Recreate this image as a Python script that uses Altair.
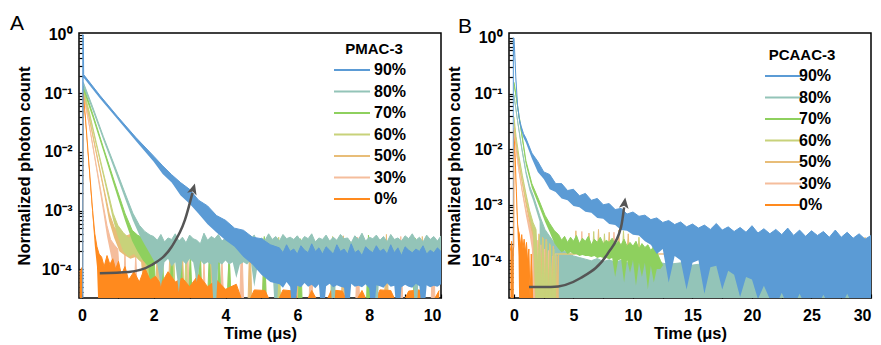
import altair as alt
import pandas as pd

OFF = 1e-5  # below the visible range (zero counts)

SERIES = ["90%", "80%", "70%", "60%", "50%", "30%", "0%"]
COLORS = ["#5b9bd5", "#93c4b8", "#8ed05e", "#c8d27a", "#e8bd78", "#f5bd9c", "#ff8a1e"]

# ---------------- Panel A (PMAC-3): (time, upper, lower) ----------------
A_0 = [(-0.06, 9e-5, OFF), (0.02, 1.1e-4, OFF), (0.04, 0.10, 0.085), (0.1, 0.038, 0.032),
       (0.2, 6.0e-3, 4.8e-3), (0.3, 1.0e-3, 7.5e-4), (0.36, 4.0e-4, 2.5e-4), (0.42, 2.4e-4, 1.1e-4),
       (0.48, 1.8e-4, OFF), (0.55, 1.6e-4, OFF), (0.62, 1.1e-4, OFF), (0.7, 1.7e-4, OFF),
       (0.78, 1.2e-4, OFF), (0.86, 1.5e-4, OFF), (0.94, 1.0e-4, OFF), (1.02, 1.35e-4, OFF),
       (1.1, 8e-5, OFF), (1.2, 1.1e-4, OFF), (1.3, 6.5e-5, OFF), (1.45, 9e-5, OFF), (1.6, 6e-5, OFF),
       (1.75, 1.05e-4, OFF), (1.9, 6.5e-5, OFF), (2.05, 7.5e-5, OFF), (2.2, 5.5e-5, OFF),
       (2.4, 9e-5, OFF), (2.6, 6e-5, OFF), (2.8, 7e-5, OFF), (3.0, 5e-5, OFF), (3.25, 8e-5, OFF),
       (3.5, 5e-5, OFF), (3.75, 6.5e-5, OFF), (4.0, 4.5e-5, OFF), (4.3, 5.5e-5, OFF),
       (4.55, 2e-5, OFF), (4.8, 4.4e-5, OFF), (5.1, 4.3e-5, OFF), (5.35, 2e-5, OFF),
       (5.6, 4.4e-5, OFF), (5.9, 4.2e-5, OFF), (6.15, 2e-5, OFF), (6.4, 4.3e-5, OFF),
       (6.7, 2e-5, OFF), (6.95, 4.4e-5, OFF), (7.25, 4.2e-5, OFF), (7.5, 2e-5, OFF),
       (7.8, 4.3e-5, OFF), (8.05, 2e-5, OFF), (8.3, 4.4e-5, OFF), (8.6, 4.3e-5, OFF),
       (8.85, 2e-5, OFF), (9.1, 4.2e-5, OFF), (9.4, 4.4e-5, OFF), (9.65, 2e-5, OFF), (9.95, 4.3e-5, OFF)]

A_30 = [(0.04, 0.105, 0.09), (0.2, 0.031, 0.027), (0.4, 6.0e-3, 5.0e-3), (0.6, 1.2e-3, 9.0e-4),
        (0.7, 5.5e-4, 3.6e-4), (0.8, 3.2e-4, 1.8e-4), (0.9, 2.6e-4, 9e-5), (1.0, 2.2e-4, OFF),
        (1.06, 5e-5, OFF), (1.14, 2e-5, OFF), (1.2, 2.0e-4, OFF), (1.26, 2e-5, OFF),
        (1.44, 2e-5, OFF), (1.5, 1.8e-4, OFF), (1.56, 2e-5, OFF), (1.74, 2e-5, OFF),
        (1.8, 1.6e-4, OFF), (1.86, 2e-5, OFF), (2.09, 2e-5, OFF), (2.15, 1.9e-4, OFF),
        (2.21, 2e-5, OFF), (2.49, 2e-5, OFF), (2.55, 1.4e-4, OFF), (2.61, 2e-5, OFF),
        (2.89, 2e-5, OFF), (2.95, 1.7e-4, OFF), (3.01, 2e-5, OFF), (3.34, 2e-5, OFF),
        (3.4, 1.3e-4, OFF), (3.46, 2e-5, OFF), (3.84, 2e-5, OFF), (3.9, 1.5e-4, OFF),
        (3.96, 2e-5, OFF), (4.39, 2e-5, OFF), (4.45, 3.6e-4, OFF), (4.51, 2e-5, OFF),
        (5.02, 2e-5, OFF), (5.08, 3.4e-4, OFF), (5.14, 2e-5, OFF), (6.32, 2e-5, OFF),
        (6.38, 3.7e-4, OFF), (6.44, 2e-5, OFF), (7.62, 2e-5, OFF), (7.68, 3.5e-4, OFF),
        (7.74, 2e-5, OFF), (8.82, 2e-5, OFF), (8.88, 3.6e-4, OFF), (8.94, 2e-5, OFF),
        (9.72, 2e-5, OFF), (9.78, 3.5e-4, OFF), (9.84, 2e-5, OFF)]

A_50 = [(0.04, 0.115, 0.1), (0.2, 0.041, 0.036), (0.4, 0.0102, 0.0088), (0.6, 2.6e-3, 2.2e-3),
        (0.76, 9e-4, 6.5e-4), (0.9, 5.2e-4, 3.4e-4), (1.05, 4.0e-4, 2.0e-4), (1.2, 3.6e-4, 1.7e-4),
        (1.35, 3.9e-4, 1.5e-4), (1.5, 3.0e-4, 1.6e-4), (1.65, 3.4e-4, 1.3e-4), (1.8, 2.6e-4, OFF),
        (1.88, 2e-5, OFF), (2.04, 2e-5, OFF), (2.1, 2.3e-4, OFF), (2.16, 2e-5, OFF),
        (2.39, 2e-5, OFF), (2.45, 1.9e-4, OFF), (2.51, 2e-5, OFF), (2.74, 2e-5, OFF),
        (2.8, 2.2e-4, OFF), (2.86, 2e-5, OFF), (3.14, 2e-5, OFF), (3.2, 1.7e-4, OFF),
        (3.26, 2e-5, OFF), (3.54, 2e-5, OFF), (3.6, 2.0e-4, OFF), (3.66, 2e-5, OFF),
        (4.62, 2e-5, OFF), (4.68, 3.8e-4, OFF), (4.74, 2e-5, OFF), (5.92, 2e-5, OFF),
        (5.98, 3.6e-4, OFF), (6.04, 2e-5, OFF), (7.22, 2e-5, OFF), (7.28, 3.7e-4, OFF),
        (7.34, 2e-5, OFF), (8.42, 2e-5, OFF), (8.48, 3.9e-4, OFF), (8.54, 2e-5, OFF),
        (9.42, 2e-5, OFF), (9.48, 3.6e-4, OFF), (9.54, 2e-5, OFF), (10.0, 2e-5, OFF)]

A_60 = [(0.04, 0.12, 0.1), (0.2, 0.05, 0.043), (0.4, 0.0145, 0.0125), (0.6, 4.4e-3, 3.7e-3),
        (0.87, 9e-4, 6.8e-4), (1.0, 5.6e-4, 3.6e-4), (1.15, 4.2e-4, 2.0e-4), (1.3, 3.4e-4, 1.6e-4),
        (1.45, 3.8e-4, 1.8e-4), (1.6, 3.1e-4, 1.4e-4), (1.75, 3.5e-4, 1.5e-4), (1.9, 2.8e-4, OFF),
        (1.98, 2e-5, OFF), (2.14, 2e-5, OFF), (2.2, 2.1e-4, OFF), (2.26, 2e-5, OFF),
        (2.49, 2e-5, OFF), (2.55, 2.4e-4, OFF), (2.61, 2e-5, OFF), (2.84, 2e-5, OFF),
        (2.9, 1.8e-4, OFF), (2.96, 2e-5, OFF), (3.24, 2e-5, OFF), (3.3, 2.2e-4, OFF),
        (3.36, 2e-5, OFF), (3.64, 2e-5, OFF), (3.7, 1.6e-4, OFF), (3.76, 2e-5, OFF),
        (4.04, 2e-5, OFF), (4.1, 2.0e-4, OFF), (4.16, 2e-5, OFF), (5.42, 2e-5, OFF),
        (5.48, 3.5e-4, OFF), (5.54, 2e-5, OFF), (6.92, 2e-5, OFF), (6.98, 3.6e-4, OFF),
        (7.04, 2e-5, OFF), (8.12, 2e-5, OFF), (8.18, 3.4e-4, OFF), (8.24, 2e-5, OFF),
        (10.0, 2e-5, OFF)]

A_70 = [(0.04, 0.135, 0.115), (0.3, 0.045, 0.039), (0.6, 0.0118, 0.0102), (0.9, 3.2e-3, 2.6e-3),
        (1.2, 9e-4, 6.8e-4), (1.4, 4.6e-4, 3.0e-4), (1.55, 3.8e-4, 2.0e-4), (1.7, 3.4e-4, 1.4e-4),
        (1.85, 3.0e-4, 1.1e-4), (2.0, 2.8e-4, OFF), (2.06, 3e-5, OFF), (2.18, 2e-5, OFF),
        (2.24, 2.5e-4, OFF), (2.3, 2e-5, OFF), (2.44, 2e-5, OFF), (2.5, 2.2e-4, OFF),
        (2.56, 2e-5, OFF), (2.7, 2e-5, OFF), (2.76, 2.6e-4, OFF), (2.82, 2e-5, OFF),
        (2.96, 2e-5, OFF), (3.02, 2.0e-4, OFF), (3.08, 2e-5, OFF), (3.22, 2e-5, OFF),
        (3.28, 2.3e-4, OFF), (3.34, 2e-5, OFF), (3.49, 2e-5, OFF), (3.55, 1.9e-4, OFF),
        (3.61, 2e-5, OFF), (3.76, 2e-5, OFF), (3.82, 2.4e-4, OFF), (3.88, 2e-5, OFF),
        (4.04, 2e-5, OFF), (4.1, 1.8e-4, OFF), (4.16, 2e-5, OFF), (5.02, 2e-5, OFF),
        (5.08, 3.6e-4, OFF), (5.14, 2e-5, OFF), (6.02, 2e-5, OFF), (6.08, 3.3e-4, OFF),
        (6.14, 2e-5, OFF), (7.92, 2e-5, OFF), (7.98, 3.8e-4, OFF), (8.04, 2e-5, OFF),
        (9.22, 2e-5, OFF), (9.28, 3.4e-4, OFF), (9.34, 2e-5, OFF), (10.0, 2e-5, OFF)]

A_80 = [(0.04, 0.155, 0.13), (0.3, 0.059, 0.051), (0.6, 0.0183, 0.0158), (0.9, 6.1e-3, 5.1e-3),
        (1.2, 2.0e-3, 1.6e-3), (1.42, 9e-4, 6.8e-4), (1.6, 5.6e-4, 3.8e-4), (1.75, 4.4e-4, 2.6e-4),
        (1.9, 3.8e-4, 1.8e-4)]
A80_FLOOR_T0, A80_FLOOR_DT = 2.0, 0.1
A80_FLOOR_HI = [3.6, 3.1, 3.9, 2.9, 3.4, 3.2, 4.0, 3.0, 3.5, 2.8, 3.8, 3.3, 3.1, 2.7, 4.1, 3.1, 3.6,
                3.3, 3.9, 3.0, 3.4, 2.9, 3.7, 3.2, 4.2, 2.9, 3.5, 3.3, 3.8, 2.8, 3.4, 3.1, 4.0, 3.2,
                3.6, 3.0, 3.9, 3.3, 3.5, 3.2, 3.7, 3.0, 3.6, 3.3, 4.0, 2.9, 3.4, 3.2, 3.8, 3.0,
                3.5, 3.1, 3.9, 3.3, 3.4, 2.8, 3.7, 3.2, 4.1, 3.0, 3.5, 3.3, 3.8, 3.1, 3.6, 2.9,
                3.9, 3.2, 3.4, 3.0, 3.7, 3.3, 4.0, 3.1, 3.5, 2.9, 3.8, 3.2, 3.6, 3.0, 3.7]  # x 1e-4
A80_FLOOR_LO = [1.4, 1.2, 0.5, 1.3, 1.5, 1.1, 1.3, 0.4, 1.4, 1.2, 1.5, 1.3, 0.6, 1.4, 1.2, 1.3, 1.2,
                0.1, 1.3, 1.2, 1.4, 1.2, 1.3, 0.7, 1.2, 1.3, 1.2, 1.4, 0.5, 1.2, 1.3, 1.2, 1.3, 1.2,
                0.1, 1.3, 1.2, 1.4, 1.2, 1.1, 1.3, 1.2, 1.3, 1.2, 1.3, 1.2, 1.3, 1.2, 1.3, 1.2,
                0.1, 1.3, 1.2, 1.3, 1.2, 1.3, 1.2, 1.3, 1.2, 1.3, 1.2, 1.3, 0.1, 1.3, 1.2, 1.3,
                1.2, 1.3, 1.2, 1.3, 1.2, 1.3, 1.2, 0.1, 1.3, 1.2, 1.3, 1.2, 1.3, 1.2, 1.3]  # x 1e-4

A_90 = [(0.01, 1.0, OFF), (0.04, 1.0, OFF), (0.05, 0.21, 0.185), (0.5, 0.093, 0.083),
        (1.0, 0.040, 0.036), (1.5, 0.0178, 0.0155), (2.0, 0.0085, 0.0068), (2.25, 0.0058, 0.0042),
        (2.5, 0.0041, 0.0030), (2.75, 0.0030, 0.0018), (3.0, 0.0023, 0.0013), (3.25, 0.0015, 0.00088),
        (3.5, 0.0012, 0.00058), (3.75, 0.00082, 0.00042), (4.0, 0.00068, 0.00031),
        (4.25, 0.00050, 0.00024), (4.5, 0.00046, 0.00016), (4.75, 0.00035, 0.00012),
        (5.0, 0.00033, 0.00008), (5.25, 0.00026, 0.00006)]
A90_FLOOR_T0, A90_FLOOR_DT = 5.5, 0.1
A90_FLOOR_HI = [2.3, 1.9, 2.6, 2.0, 2.2, 1.8, 2.5, 2.1, 1.9, 2.7, 2.0, 2.3, 1.8, 2.4, 2.1, 1.8, 2.6,
                2.0, 2.2, 1.8, 2.7, 1.9, 2.1, 1.7, 2.4, 2.1, 1.9, 2.5, 2.0, 2.2, 1.8, 2.6, 1.9, 2.3,
                1.7, 2.4, 2.1, 1.9, 2.2, 2.0, 2.5, 1.8, 2.1, 1.9, 2.3, 2.0]  # x 1e-4
A90_FLOOR_LO = [5.5, 4.8, 6.0, 5.0, 1.0, 5.2, 4.9, 5.8, 5.0, 5.4, 4.7, 5.5, 1.0, 5.1, 5.6, 4.9, 5.3,
                5.0, 4.8, 1.0, 5.6, 5.0, 5.2, 4.9, 5.5, 4.7, 1.0, 5.3, 5.1, 4.8, 5.7, 5.0, 5.2, 1.0,
                4.9, 5.4, 5.0, 4.8, 5.6, 5.1, 1.0, 5.3, 4.9, 5.2, 5.0, 5.5]  # x 1e-5

# ---------------- Panel B (PCAAC-3) ----------------
B_0 = [(-0.3, 1.5e-4, OFF), (-0.2, 2.2e-4, OFF), (-0.1, 1.2e-4, OFF), (-0.02, 1.8e-4, OFF),
       (0.0, 0.022, 0.018), (0.1, 7e-3, 5.6e-3), (0.2, 1.7e-3, 1.3e-3), (0.3, 4.5e-4, 3.0e-4),
       (0.38, 3.4e-4, 1.2e-4), (0.45, 3.0e-4, OFF), (0.55, 1.8e-4, OFF), (0.65, 2.9e-4, OFF),
       (0.75, 1.6e-4, OFF), (0.85, 2.4e-4, OFF), (0.95, 1.4e-4, OFF), (1.05, 2.1e-4, OFF),
       (1.15, 9e-5, OFF), (1.25, 1.6e-4, OFF), (1.35, 2e-5, OFF), (1.45, 1.3e-4, OFF),
       (1.55, 4e-5, OFF), (1.65, 1.2e-4, OFF), (1.75, 2e-5, OFF), (1.9, 9e-5, OFF),
       (2.0, 2e-5, OFF), (2.15, 7e-5, OFF), (2.3, 2e-5, OFF)]

B_30 = [(0.0, 0.024, 0.02), (0.17, 0.0105, 0.009), (0.4, 4.4e-3, 3.7e-3), (0.7, 1.8e-3, 1.5e-3),
        (1.0, 8.2e-4, 6.4e-4), (1.3, 4.4e-4, 3.0e-4), (1.5, 3.3e-4, 1.6e-4), (1.65, 2.8e-4, OFF),
        (1.8, 6e-5, OFF), (1.95, 2.3e-4, OFF), (2.1, 3e-5, OFF), (2.25, 1.9e-4, OFF),
        (2.4, 2e-5, OFF), (2.55, 1.6e-4, OFF), (2.7, 2e-5, OFF), (2.9, 1.5e-4, OFF),
        (3.05, 2e-5, OFF), (3.25, 1.2e-4, OFF), (3.4, 2e-5, OFF), (3.45, 1.3e-4, 1.3e-4),
        (5.6, 1.3e-4, 1.3e-4), (5.7, 3.3e-4, 1.3e-4), (5.8, 1.3e-4, 1.3e-4),
        (8.3, 1.3e-4, 1.3e-4), (8.4, 3.2e-4, 1.3e-4), (8.5, 1.3e-4, 1.3e-4),
        (22.4, 1.3e-4, 1.3e-4), (22.5, 2.9e-4, 1.3e-4), (22.6, 1.3e-4, 1.3e-4),
        (30.0, 1.3e-4, 1.3e-4)]

B_50 = [(0.0, 0.03, 0.025), (0.17, 0.0135, 0.0115), (0.4, 6e-3, 5e-3), (0.7, 2.6e-3, 2.2e-3),
        (1.0, 1.2e-3, 9.5e-4), (1.3, 6.2e-4, 4.6e-4), (1.6, 4.0e-4, 2.6e-4), (1.8, 3.4e-4, OFF),
        (1.95, 5e-5, OFF), (2.1, 3.0e-4, OFF), (2.25, 4e-5, OFF), (2.4, 2.6e-4, OFF),
        (2.55, 3e-5, OFF), (2.7, 2.4e-4, OFF), (2.85, 2e-5, OFF), (3.0, 2.0e-4, OFF),
        (3.15, 2e-5, OFF), (3.3, 1.8e-4, OFF), (3.45, 2e-5, OFF), (3.6, 1.2e-4, OFF),
        (3.7, 2e-5, OFF), (3.75, 1.3e-4, 1.3e-4),
        (5.1, 1.3e-4, 1.3e-4), (5.2, 3.4e-4, 1.3e-4), (5.3, 1.3e-4, 1.3e-4),
        (6.2, 1.3e-4, 1.3e-4), (6.3, 3.1e-4, 1.3e-4), (6.4, 1.3e-4, 1.3e-4),
        (7.0, 1.3e-4, 1.3e-4), (7.1, 3.6e-4, 1.3e-4), (7.2, 1.3e-4, 1.3e-4),
        (7.9, 1.3e-4, 1.3e-4), (8.0, 3.2e-4, 1.3e-4), (8.1, 1.3e-4, 1.3e-4),
        (8.7, 1.3e-4, 1.3e-4), (8.8, 3.5e-4, 1.3e-4), (8.9, 1.3e-4, 1.3e-4),
        (9.5, 1.3e-4, 1.3e-4), (9.6, 3.0e-4, 1.3e-4), (9.7, 1.3e-4, 1.3e-4),
        (20.9, 1.3e-4, 1.3e-4), (21.0, 2.8e-4, 1.3e-4), (21.1, 1.3e-4, 1.3e-4),
        (23.9, 1.3e-4, 1.3e-4), (24.0, 3.0e-4, 1.3e-4), (24.1, 1.3e-4, 1.3e-4),
        (26.9, 1.3e-4, 1.3e-4), (27.0, 2.7e-4, 1.3e-4), (27.1, 1.3e-4, 1.3e-4),
        (29.4, 1.3e-4, 1.3e-4), (29.5, 2.6e-4, 1.3e-4), (29.6, 1.3e-4, 1.3e-4)]

B_60 = [(0.0, 0.038, 0.032), (0.17, 0.017, 0.0145), (0.4, 7.8e-3, 6.6e-3), (0.7, 3.4e-3, 2.9e-3),
        (1.0, 1.6e-3, 1.3e-3), (1.3, 8.0e-4, 6.2e-4), (1.6, 4.8e-4, 3.2e-4), (1.85, 3.6e-4, OFF),
        (2.0, 6e-5, OFF), (2.15, 2.8e-4, OFF), (2.3, 3e-5, OFF), (2.45, 2.5e-4, OFF),
        (2.6, 2e-5, OFF), (2.75, 2.2e-4, OFF), (2.9, 2e-5, OFF), (3.05, 1.9e-4, OFF),
        (3.2, 2e-5, OFF), (3.35, 1.6e-4, OFF), (3.5, 2e-5, OFF), (3.55, 1.3e-4, 1.3e-4),
        (6.6, 1.3e-4, 1.3e-4), (6.7, 3.3e-4, 1.3e-4), (6.8, 1.3e-4, 1.3e-4),
        (7.5, 1.3e-4, 1.3e-4), (7.6, 3.0e-4, 1.3e-4), (7.7, 1.3e-4, 1.3e-4),
        (9.1, 1.3e-4, 1.3e-4), (9.2, 3.4e-4, 1.3e-4), (9.3, 1.3e-4, 1.3e-4),
        (10.4, 1.3e-4, 1.3e-4), (10.5, 2.6e-4, 1.3e-4), (10.6, 1.3e-4, 1.3e-4)]

B_70 = [(0.0, 0.16, 0.13), (0.17, 0.095, 0.08), (0.3, 0.06, 0.051), (0.6, 0.023, 0.019),
        (1.0, 6.2e-3, 5.2e-3), (1.5, 2.4e-3, 2.0e-3), (2.1, 1.2e-3, 9.5e-4), (2.6, 6.5e-4, 5.0e-4),
        (3.0, 4.6e-4, 3.2e-4), (3.4, 3.4e-4, 2.0e-4)]
B70_FLOOR_T0, B70_FLOOR_DT = 3.75, 0.25
B70_FLOOR_HI = [2.9, 2.3, 2.7, 2.1, 2.6, 2.2, 2.8, 2.0, 2.5, 2.2, 2.7, 1.9, 2.4, 2.1, 2.6, 2.0, 2.3,
                2.1, 2.5, 1.9, 2.2, 1.9, 2.4, 1.8, 2.1, 1.8, 2.2, 1.6, 2.0, 1.7, 1.9, 1.5, 1.8, 1.4]
B70_FLOOR_LO = [1.6, 1.4, 1.5, 1.3, 1.4, 1.3, 1.3, 1.2, 1.25, 1.2, 1.2, 1.15, 1.2, 1.1, 1.15, 1.1,
                1.1, 1.05, 1.1, 0.5, 1.0, 1.05, 0.4, 1.0, 0.6, 1.0, 0.35, 0.9, 0.5, 0.9, 0.3, 0.8,
                0.4, 0.7]
B70_TAIL = [(12.3, 1.0e-4, 0.7e-4), (12.5, 0.8e-4, 0.8e-4)]

B_80 = [(0.0, 0.095, 0.08), (0.3, 0.033, 0.028), (0.6, 0.0125, 0.0105), (1.0, 4.0e-3, 3.4e-3),
        (1.3, 2.2e-3, 1.8e-3), (1.6, 1.5e-3, 1.2e-3), (1.9, 9.5e-4, 7.5e-4), (2.15, 6.5e-4, 5.0e-4),
        (2.2, 6.0e-4, OFF), (2.6, 3.6e-4, OFF), (3.0, 2.7e-4, OFF), (3.5, 1.9e-4, OFF),
        (4.0, 1.55e-4, OFF), (4.5, 1.35e-4, OFF), (5.0, 1.2e-4, OFF), (5.5, 1.12e-4, OFF),
        (6.0, 1.05e-4, OFF), (6.5, 0.98e-4, OFF), (7.0, 1.08e-4, OFF), (7.5, 0.95e-4, OFF),
        (8.0, 1.02e-4, OFF), (8.5, 0.92e-4, OFF), (9.0, 1.0e-4, OFF), (9.5, 0.9e-4, OFF),
        (10.0, 0.98e-4, OFF), (10.5, 0.88e-4, OFF), (11.0, 0.95e-4, OFF), (11.5, 0.86e-4, OFF),
        (12.0, 0.93e-4, OFF), (13.0, 0.85e-4, OFF), (14.0, 0.9e-4, OFF), (15.0, 0.82e-4, OFF),
        (16.0, 0.88e-4, OFF), (17.0, 0.8e-4, OFF), (18.0, 0.85e-4, OFF), (19.0, 0.78e-4, OFF),
        (20.0, 0.84e-4, OFF), (21.0, 0.76e-4, OFF), (22.0, 0.82e-4, OFF), (23.0, 0.75e-4, OFF),
        (24.0, 0.8e-4, OFF), (25.0, 0.74e-4, OFF), (26.0, 0.78e-4, OFF), (27.0, 0.72e-4, OFF),
        (28.0, 0.77e-4, OFF), (29.0, 0.7e-4, OFF), (30.0, 0.75e-4, OFF)]

B_90 = [(-0.1, 1.0, OFF), (0.0, 1.0, 0.7), (0.08, 0.45, 0.38), (0.15, 0.2, 0.17), (0.3, 0.062, 0.053),
        (0.45, 0.035, 0.03), (0.6, 0.026, 0.022), (0.8, 0.019, 0.016), (1.0, 0.0158, 0.0132),
        (1.5, 8.5e-3, 6.8e-3), (2.0, 6.0e-3, 3.9e-3), (2.5, 3.9e-3, 2.9e-3), (3.0, 3.5e-3, 1.9e-3),
        (3.5, 2.4e-3, 1.7e-3), (4.0, 2.4e-3, 1.3e-3), (4.5, 1.8e-3, 1.2e-3), (5.0, 1.9e-3, 9.5e-4),
        (5.5, 1.45e-3, 9e-4), (6.0, 1.6e-3, 7.5e-4), (6.5, 1.2e-3, 7.2e-4), (7.0, 1.3e-3, 5.8e-4),
        (7.5, 1.0e-3, 5.6e-4), (8.0, 1.05e-3, 4.5e-4), (8.5, 8.2e-4, 4.3e-4), (9.0, 8.6e-4, 3.5e-4),
        (9.5, 6.8e-4, 3.4e-4), (10.0, 7.4e-4, 2.9e-4), (10.5, 6.2e-4, 2.8e-4), (11.0, 6.5e-4, 2.2e-4),
        (11.5, 5.4e-4, 1.9e-4), (12.0, 5.8e-4, 1.3e-4), (12.5, 4.8e-4, 1.6e-4), (13.0, 5.2e-4, 4e-5),
        (13.5, 4.4e-4, 1.2e-4), (14.0, 4.9e-4, 1.0e-4), (14.5, 4.0e-4, 3e-5), (15.0, 4.5e-4, 9e-5),
        (15.5, 3.8e-4, 1.0e-4), (16.0, 4.3e-4, 2.5e-5), (16.5, 3.6e-4, 7.5e-5), (17.0, 4.6e-4, 8e-5),
        (17.5, 3.5e-4, 3e-5), (18.0, 4.0e-4, 6.5e-5), (18.5, 3.3e-4, 5.5e-5), (19.0, 3.9e-4, 2.2e-5),
        (19.5, 3.2e-4, 5e-5), (20.0, 4.2e-4, 4.5e-5), (20.5, 3.1e-4, 2e-5), (21.0, 3.7e-4, 3.5e-5),
        (21.5, 3.0e-4, 2e-5), (22.0, 3.6e-4, 1.5e-5), (22.5, 2.9e-4, 2.6e-5), (23.0, 3.8e-4, 1.5e-5),
        (23.5, 2.8e-4, 1.5e-5), (24.0, 3.5e-4, 2.5e-5), (24.5, 2.7e-4, 1.5e-5), (25.0, 3.4e-4, 1.5e-5),
        (25.5, 2.8e-4, 1.5e-5), (26.0, 3.3e-4, 2.4e-5), (26.5, 2.6e-4, 1.5e-5), (27.0, 3.5e-4, 1.5e-5),
        (27.5, 2.6e-4, 1.5e-5), (28.0, 3.2e-4, 2.5e-5), (28.5, 2.5e-4, 1.5e-5), (29.0, 3.0e-4, 1.5e-5),
        (29.5, 2.4e-4, 1.5e-5), (30.0, 2.8e-4, 1.5e-5)]

# grey arrows (time, value)
ARROW_A = [(0.5, 8.5e-5), (1.3, 8.9e-5), (1.94, 1.17e-4), (2.5, 2.4e-4), (2.87, 6.9e-4), (3.08, 2.0e-3)]
ARROW_A_HEAD = (3.1, 2.3e-3, 16)
ARROW_B = [(1.26, 3.3e-5), (3.1, 3.3e-5), (5.6, 4.8e-5), (7.9, 1.35e-4), (9.0, 4.0e-4), (9.25, 9.0e-4)]
ARROW_B_HEAD = (9.28, 1.05e-3, 8)


def floor(t0, dt, his, los, scale_hi, scale_lo):
    return [(round(t0 + i * dt, 3), h * scale_hi, l * scale_lo) for i, (h, l) in enumerate(zip(his, los))]


PANEL_A = {
    "0%": A_0, "30%": A_30, "50%": A_50, "60%": A_60, "70%": A_70,
    "80%": A_80 + floor(A80_FLOOR_T0, A80_FLOOR_DT, A80_FLOOR_HI, A80_FLOOR_LO, 1e-4, 1e-4),
    "90%": A_90 + floor(A90_FLOOR_T0, A90_FLOOR_DT, A90_FLOOR_HI, A90_FLOOR_LO, 1e-4, 1e-5),
}
PANEL_B = {
    "80%": B_80, "0%": B_0, "30%": B_30, "50%": B_50, "60%": B_60,
    "70%": B_70 + floor(B70_FLOOR_T0, B70_FLOOR_DT, B70_FLOOR_HI, B70_FLOOR_LO, 1e-4, 1e-4) + B70_TAIL,
    "90%": B_90,
}
ORDER_A = ["30%", "50%", "60%", "70%", "0%", "80%", "90%"]
ORDER_B = ["80%", "0%", "30%", "50%", "60%", "70%", "90%"]
COLOR_OF = dict(zip(SERIES, COLORS))

FONT = "Liberation Sans"
SUP = {1: "10⁰", 0.1: "10⁻¹", 0.01: "10⁻²", 0.001: "10⁻³", 0.0001: "10⁻⁴"}
LABEL_EXPR = " : ".join(f"datum.value == {k} ? '{v}'" for k, v in SUP.items()) + " : ''"
Y_TICKS = sorted({round(m * 10.0 ** k, 8) for k in range(-5, 1) for m in range(1, 10)})


def panel(data, order, xdom, ydom, xvals, xlab, legend_title, letter, letter_dx,
          leg_x, leg_y, lab_off, arrow, head):
    color_scale = alt.Scale(domain=SERIES, range=COLORS)
    x_enc = alt.X("t:Q", scale=alt.Scale(domain=xdom, nice=False, zero=False),
                  axis=alt.Axis(values=xvals, labelExpr=xlab, title="Time (μs)", offset=-4,
                                tickSize=4, labelPadding=9, domain=False, grid=False,
                                titlePadding=2))
    y_axis = alt.Axis(values=[v for v in Y_TICKS if ydom[0] <= v <= ydom[1]], labelExpr=LABEL_EXPR,
                      title="Normalized photon count", offset=-4, tickSize=4, labelPadding=7,
                      domain=False, grid=False, titlePadding=9)
    y_scale = alt.Scale(type="log", domain=ydom, nice=False)
    legend = alt.Legend(title=legend_title, orient="none", legendX=leg_x, legendY=leg_y,
                        symbolType="M-2,0L2,0", symbolSize=324, symbolStrokeWidth=2,
                        labelFontSize=16, labelFont=FONT, labelFontWeight="bold", labelColor="black",
                        titleFontSize=15, titleFont=FONT, titleFontWeight="bold", titleColor="black",
                        titleAnchor="middle", rowPadding=3.5, labelOffset=lab_off, titlePadding=3)
    layers = []
    for s in order:
        df = pd.DataFrame(data[s], columns=["t", "hi", "lo"])
        df["series"] = s
        base = alt.Chart(df)
        layers.append(base.mark_area(clip=True, opacity=1, color=COLOR_OF[s]).encode(
            x=x_enc, y=alt.Y("hi:Q", scale=y_scale, axis=y_axis), y2="lo:Q"))
        layers.append(base.mark_line(clip=True, strokeWidth=1).encode(
            x=x_enc, y=alt.Y("hi:Q", scale=y_scale, axis=y_axis),
            color=alt.Color("series:N", scale=color_scale, legend=legend)))
    adf = pd.DataFrame(arrow, columns=["t", "hi"])
    layers.append(alt.Chart(adf).mark_line(color="#555555", strokeWidth=2.5, interpolate="monotone",
                                           clip=True).encode(
        x=x_enc, y=alt.Y("hi:Q", scale=y_scale, axis=y_axis)))
    hdf = pd.DataFrame([head], columns=["t", "hi", "ang"])
    layers.append(alt.Chart(hdf).mark_point(filled=True, color="#555555", opacity=1, size=150,
                                            shape="M0,-1L0.8,0.8L0,0.35L-0.8,0.8Z").encode(
        x=x_enc, y=alt.Y("hi:Q", scale=y_scale, axis=y_axis), angle=alt.Angle("ang:Q", scale=None)))
    return alt.layer(*layers).properties(
        width=362, height=265,
        title=alt.TitleParams(letter, anchor="start", frame="group", dx=letter_dx, fontSize=21,
                              fontWeight="normal", font=FONT, offset=-7, color="black"))


pa = panel(PANEL_A, ORDER_A, [-0.08, 10], [3.2e-5, 1.08], list(range(0, 11)),
           "datum.value % 2 == 0 ? datum.value : ''", "PMAC-3", "A", -69, 263, 9, 12,
           ARROW_A, ARROW_A_HEAD)
pb = panel(PANEL_B, ORDER_B, [-0.42, 30], [2.1e-5, 1.23],
           [0, 2.5, 5, 7.5, 10, 12.5, 15, 17.5, 20, 22.5, 25, 27.5, 30],
           "datum.value % 5 == 0 ? datum.value : ''", "PCAAC-3", "B", -51, 260, 15, 6,
           ARROW_B, ARROW_B_HEAD)

chart = alt.hconcat(pa, pb, spacing=2).resolve_scale(color="independent").properties(
    padding={"left": 9, "top": 12, "right": 5, "bottom": 5}, background="white"
).configure_view(stroke="black", strokeWidth=1.5).configure_axis(
    labelFont=FONT, labelFontSize=16, labelFontWeight="bold", labelColor="black",
    titleFont=FONT, titleFontSize=16.5, titleFontWeight="bold", titleColor="black",
    tickColor="black", tickWidth=1.2
)

chart.save("out.html", embed_options={"renderer": "svg", "actions": False})
